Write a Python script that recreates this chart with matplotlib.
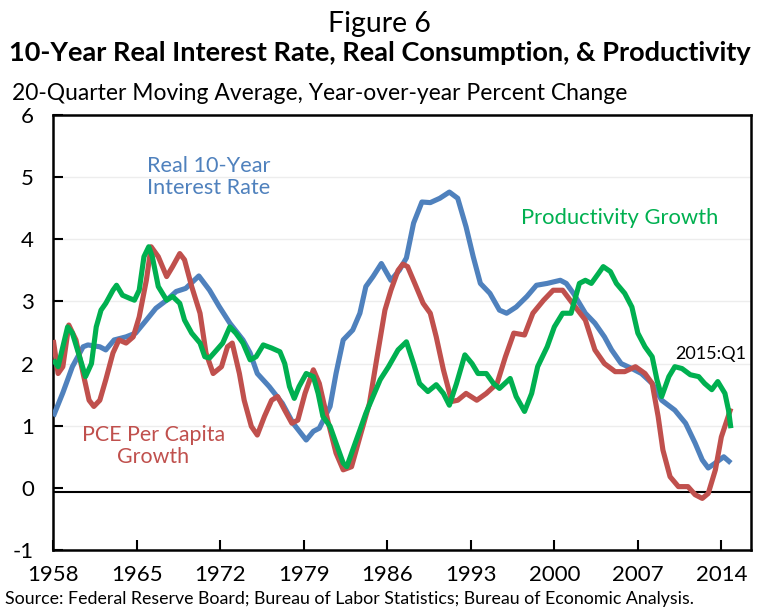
import matplotlib
matplotlib.use("Agg")
import matplotlib.pyplot as plt

plt.rcParams['font.family'] = ['Lato', 'DejaVu Sans']

# Real 10-Year Interest Rate (20-quarter moving average)
rate_years = [1958.0, 1958.8, 1959.6, 1960.5, 1960.9, 1961.9, 1962.4, 1963.1, 1964.1, 1964.9,
              1965.8, 1966.6, 1967.5, 1968.3, 1969.1, 1970.2, 1971.1, 1971.9, 1972.8, 1973.9,
              1974.5, 1975.1, 1976.1, 1977.2, 1978.1, 1979.2, 1979.8, 1980.3, 1981.2, 1981.7,
              1982.3, 1983.1, 1983.7, 1984.2, 1984.8, 1985.5, 1986.3, 1987.0, 1987.6, 1988.2,
              1988.9, 1989.6, 1990.4, 1991.2, 1991.9, 1992.6, 1993.2, 1993.8, 1994.6, 1995.4,
              1996.0, 1996.8, 1997.7, 1998.5, 1999.4, 2000.5, 2001.0, 2001.6, 2002.6, 2003.4,
              2004.2, 2004.8, 2005.6, 2006.5, 2007.3, 2008.2, 2009.0, 2010.1, 2011.0, 2011.8,
              2012.4, 2012.9, 2013.5, 2014.2, 2014.8]
rate_vals = [1.15, 1.53, 1.95, 2.27, 2.30, 2.27, 2.22, 2.38, 2.43, 2.49,
             2.70, 2.89, 3.02, 3.16, 3.21, 3.41, 3.18, 2.92, 2.65, 2.38,
             2.17, 1.84, 1.63, 1.36, 1.04, 0.77, 0.91, 0.96, 1.31, 1.84,
             2.38, 2.54, 2.81, 3.24, 3.40, 3.61, 3.34, 3.50, 3.70, 4.26,
             4.60, 4.59, 4.66, 4.76, 4.66, 4.20, 3.72, 3.29, 3.13, 2.86,
             2.81, 2.91, 3.08, 3.26, 3.29, 3.34, 3.29, 3.13, 2.81, 2.65,
             2.43, 2.22, 2.00, 1.92, 1.84, 1.68, 1.41, 1.25, 1.04, 0.72,
             0.45, 0.32, 0.40, 0.50, 0.40]

# PCE Per Capita Growth
pce_years = [1958.0, 1958.4, 1958.8, 1959.3, 1959.9, 1960.5, 1961.0, 1961.4, 1961.9, 1962.4,
             1963.0, 1963.5, 1964.1, 1964.7, 1965.2, 1965.8, 1966.2, 1966.8, 1967.5, 1968.0,
             1968.6, 1969.0, 1969.6, 1970.3, 1970.8, 1971.4, 1972.1, 1972.6, 1973.0, 1973.6,
             1974.0, 1974.6, 1975.1, 1975.7, 1976.3, 1976.8, 1977.4, 1978.0, 1978.5, 1979.1,
             1979.8, 1980.3, 1981.0, 1981.7, 1982.3, 1983.0, 1983.7, 1984.5, 1985.1, 1985.8,
             1986.3, 1986.9, 1987.3, 1987.7, 1988.3, 1989.0, 1989.6, 1990.1, 1990.7, 1991.4,
             1991.9, 1992.6, 1993.5, 1994.3, 1995.2, 1995.9, 1996.6, 1997.5, 1998.2, 1999.1,
             1999.9, 2000.7, 2001.6, 2002.6, 2003.4, 2004.2, 2005.1, 2005.9, 2006.8, 2007.6,
             2008.2, 2008.7, 2009.1, 2009.7, 2010.4, 2011.2, 2011.8, 2012.4, 2012.9, 2013.5,
             2014.0, 2014.8]
pce_vals = [2.38, 1.84, 1.95, 2.62, 2.38, 1.84, 1.41, 1.31, 1.41, 1.74,
            2.17, 2.38, 2.33, 2.43, 2.75, 3.34, 3.88, 3.72, 3.40, 3.56,
            3.77, 3.67, 3.24, 2.81, 2.17, 1.84, 1.95, 2.27, 2.33, 1.84,
            1.41, 0.99, 0.85, 1.15, 1.41, 1.47, 1.25, 1.04, 1.09, 1.52,
            1.90, 1.68, 1.09, 0.56, 0.29, 0.34, 0.82, 1.36, 2.06, 2.86,
            3.18, 3.50, 3.60, 3.56, 3.29, 2.97, 2.81, 2.43, 1.90, 1.39,
            1.41, 1.52, 1.41, 1.52, 1.68, 2.11, 2.49, 2.46, 2.81, 3.02,
            3.18, 3.18, 2.95, 2.70, 2.22, 2.00, 1.87, 1.87, 1.95, 1.84,
            1.68, 1.15, 0.61, 0.18, 0.02, 0.02, -0.11, -0.17, -0.09, 0.29,
            0.82, 1.28]

# Productivity Growth
prod_years = [1958.0, 1958.4, 1958.8, 1959.2, 1959.6, 1960.2, 1960.7, 1961.2, 1961.6, 1962.0,
              1962.4, 1963.0, 1963.3, 1963.8, 1964.4, 1964.8, 1965.2, 1965.6, 1966.0, 1966.3,
              1966.8, 1967.5, 1968.0, 1968.6, 1969.0, 1969.6, 1970.3, 1970.7, 1971.1, 1971.7,
              1972.2, 1972.8, 1973.3, 1973.9, 1974.5, 1975.0, 1975.6, 1976.3, 1977.0, 1977.4,
              1977.8, 1978.2, 1978.6, 1979.2, 1979.8, 1980.2, 1980.6, 1981.2, 1981.7, 1982.3,
              1982.6, 1983.1, 1983.7, 1984.2, 1984.8, 1985.4, 1986.1, 1986.9, 1987.6, 1988.2,
              1988.7, 1989.4, 1990.1, 1990.7, 1991.2, 1991.8, 1992.5, 1993.1, 1993.6, 1994.3,
              1994.9, 1995.4, 1996.3, 1996.8, 1997.5, 1998.1, 1998.6, 1999.4, 2000.0, 2000.7,
              2001.4, 2002.1, 2002.6, 2003.1, 2003.7, 2004.1, 2004.7, 2005.2, 2005.9, 2006.5,
              2007.0, 2007.6, 2008.2, 2008.6, 2009.0, 2009.6, 2010.1, 2010.7, 2011.4, 2012.1,
              2012.6, 2013.2, 2013.7, 2014.3, 2014.6, 2014.8]
prod_vals = [2.06, 1.95, 2.27, 2.59, 2.49, 2.11, 1.79, 2.00, 2.59, 2.86,
             2.97, 3.18, 3.26, 3.10, 3.05, 3.02, 3.18, 3.72, 3.88, 3.72,
             3.24, 3.02, 3.08, 2.97, 2.70, 2.49, 2.33, 2.11, 2.09, 2.22,
             2.33, 2.59, 2.49, 2.33, 2.06, 2.11, 2.30, 2.25, 2.19, 2.00,
             1.63, 1.44, 1.63, 1.84, 1.79, 1.52, 1.15, 0.99, 0.72, 0.40,
             0.34, 0.61, 0.93, 1.20, 1.47, 1.74, 1.95, 2.22, 2.35, 2.00,
             1.68, 1.55, 1.66, 1.52, 1.33, 1.68, 2.14, 2.00, 1.84, 1.84,
             1.68, 1.60, 1.76, 1.47, 1.23, 1.52, 1.95, 2.27, 2.59, 2.81,
             2.81, 3.29, 3.34, 3.29, 3.45, 3.56, 3.48, 3.29, 3.13, 2.91,
             2.49, 2.27, 2.11, 1.74, 1.47, 1.79, 1.95, 1.92, 1.82, 1.79,
             1.68, 1.58, 1.71, 1.52, 1.25, 0.96]

x_ticks = [1958, 1965, 1972, 1979, 1986, 1993, 2000, 2007, 2014]
y_ticks = [-1, 0, 1, 2, 3, 4, 5, 6]

BLUE = '#4F81BD'
RED = '#C0504D'
GREEN = '#00B050'

fig = plt.figure(figsize=(7.58, 6.08), dpi=100)
ax = fig.add_axes([53.3 / 758, 58 / 608, (750.7 - 53.3) / 758, 435 / 608])

for yv in [1, 2, 3, 4, 5]:
    ax.axhline(yv, color='#EDEDED', lw=1.0, zorder=0)
ax.axhline(-0.06, color='black', lw=1.5, zorder=1)

lw = 3.7
ax.plot(rate_years, rate_vals, color=BLUE, lw=lw, solid_capstyle='butt', solid_joinstyle='round', zorder=3)
ax.plot(pce_years, pce_vals, color=RED, lw=lw, solid_capstyle='butt', solid_joinstyle='round', zorder=3)
ax.plot(prod_years, prod_vals, color=GREEN, lw=lw, solid_capstyle='butt', solid_joinstyle='round', zorder=4)

ax.set_xlim(1958, 2016.46)
ax.set_ylim(-1, 6)
ax.set_xticks(x_ticks)
ax.set_xticklabels([str(t) for t in x_ticks])
ax.set_yticks(y_ticks)
ax.set_yticklabels([str(t) for t in y_ticks])
ax.tick_params(axis='both', direction='in', length=7, width=1.5, labelsize=16, color='black')
ax.tick_params(axis='y', pad=14)
ax.tick_params(axis='x', pad=11)
for sp in ax.spines.values():
    sp.set_linewidth(1.8)
    sp.set_color('black')

ax.text(1971.05, 5.0, 'Real 10-Year\nInterest Rate', color=BLUE, fontsize=15.6,
        ha='center', va='center', linespacing=1.1)
ax.text(2005.5, 4.34, 'Productivity Growth', color=GREEN, fontsize=15.8,
        ha='center', va='center')
ax.text(1966.4, 0.67, 'PCE Per Capita\nGrowth', color=RED, fontsize=15.4,
        ha='center', va='center', linespacing=1.1)
ax.text(2013.1, 2.15, '2015:Q1', color='black', fontsize=13,
        ha='center', va='center')

fig.text(379 / 758, 1 - 32 / 608, 'Figure 6', fontsize=20.5, ha='center', va='baseline')
fig.text(380 / 758, 1 - 61 / 608, '10-Year Real Interest Rate, Real Consumption, & Productivity',
         fontsize=19.5, fontweight='bold', ha='center', va='baseline')
fig.text(12 / 758, 1 - 100 / 608, '20-Quarter Moving Average, Year-over-year Percent Change',
         fontsize=16.5, ha='left', va='baseline')
fig.text(5 / 758, 1 - 604 / 608, 'Source: Federal Reserve Board; Bureau of Labor Statistics; Bureau of Economic Analysis.',
         fontsize=12.8, ha='left', va='baseline')

fig.savefig('out.png', dpi=100)
